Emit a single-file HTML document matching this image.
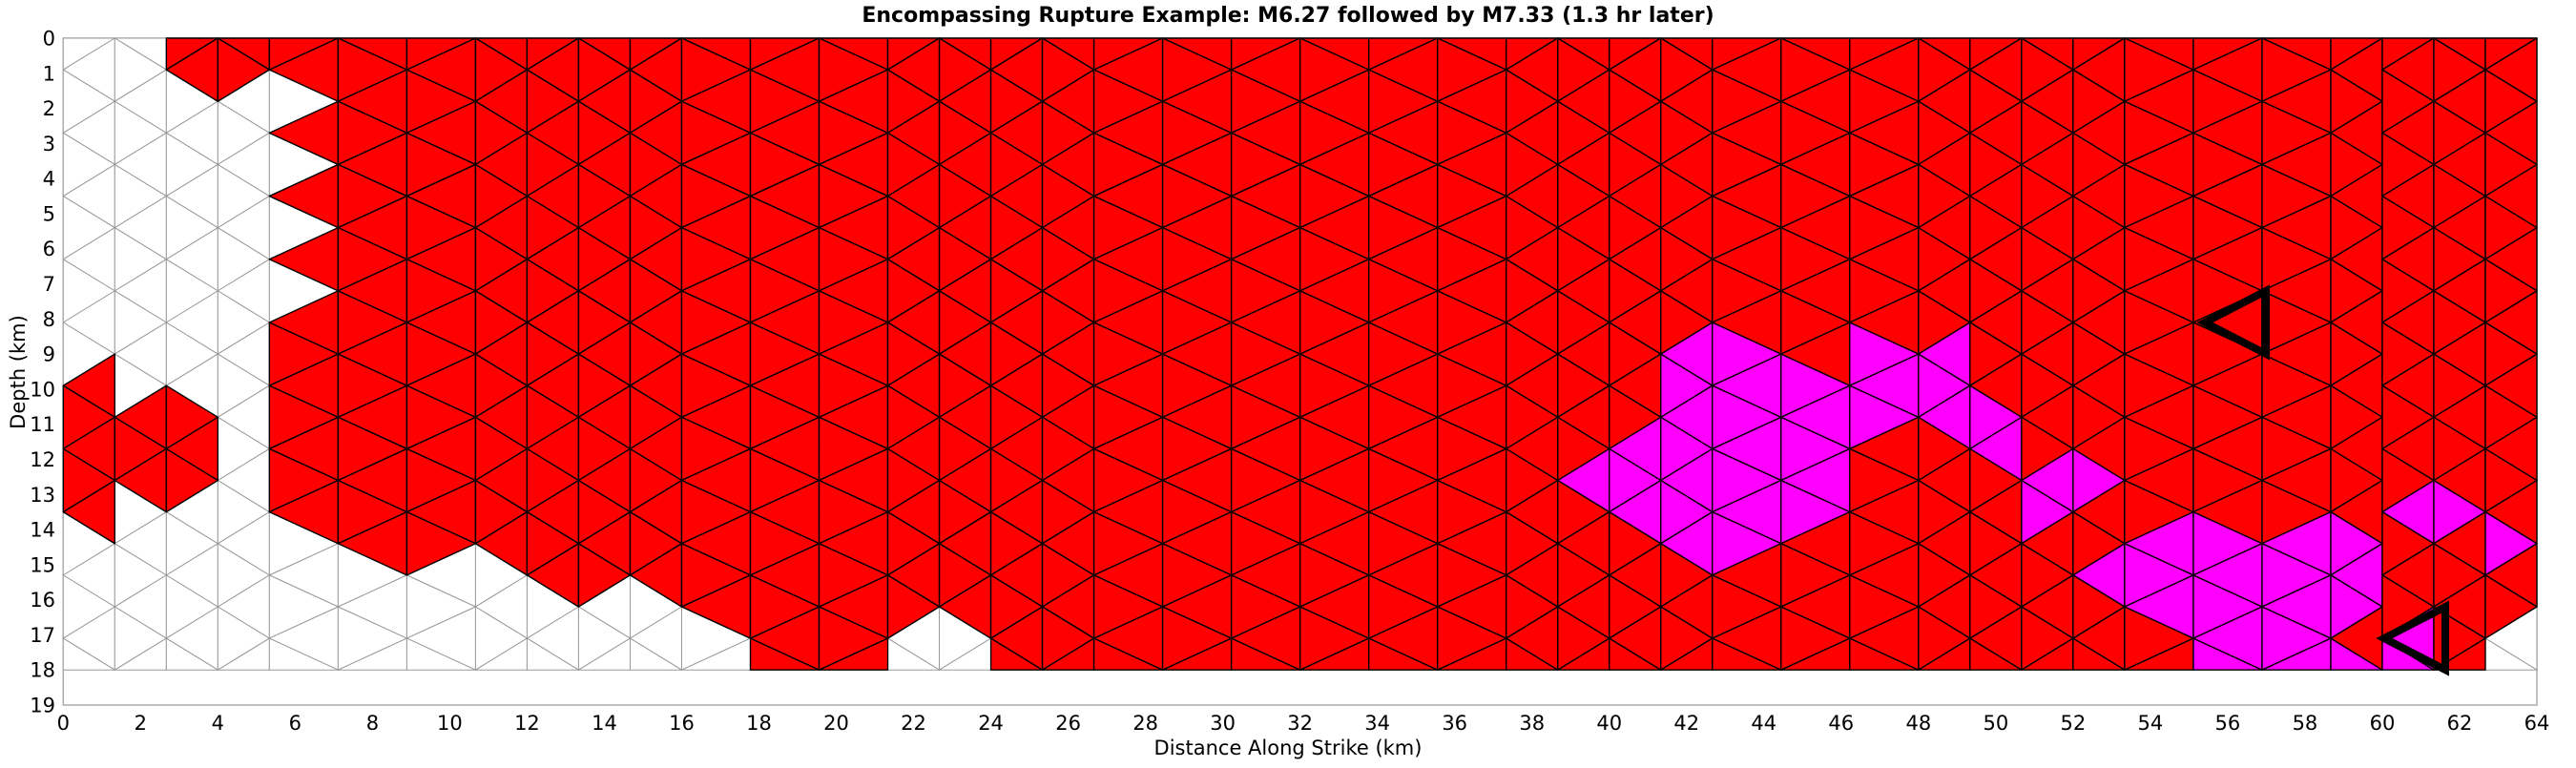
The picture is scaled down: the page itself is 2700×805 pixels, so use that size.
<!DOCTYPE html>
<html><head><meta charset="utf-8">
<style>
html,body{margin:0;padding:0;background:#fff;}
svg text{font-family:"DejaVu Sans","Liberation Sans",sans-serif;}
</style></head>
<body>
<svg id="chart" width="2700" height="800" viewBox="0 0 2700 800" xmlns="http://www.w3.org/2000/svg">
<rect x="0" y="0" width="2700" height="800" fill="#fff"/>
<text x="1350" y="23" text-anchor="middle" font-size="22" font-weight="bold">Encompassing Rupture Example: M6.27 followed by M7.33 (1.3 hr later)</text>
<g id="frame"></g>
<g id="mesh"></g>
<g id="markers"></g>
<g id="xticks"></g>
<g id="yticks"></g>
<text x="1350" y="791" text-anchor="middle" font-size="21">Distance Along Strike (km)</text>
<text x="0" y="0" transform="translate(26,390) rotate(-90)" text-anchor="middle" font-size="21">Depth (km)</text>
</svg>
<script>
// Column boundaries along strike (km)
const colEdges = [0,1.333,2.667,4,5.333,7.111,8.889,10.667,12,13.333,14.667,16,17.778,19.556,21.333,22.667,24,25.333,26.667,28.444,30.222,32,33.778,35.556,37.333,38.667,40,41.333,42.667,44.444,46.222,48,49.333,50.667,52,53.333,55.111,56.889,58.667,60,61.333,62.667,64];
// index of first column of second fault segment
const segmentStarts = [0,39];
// triangle states per column, top to bottom: w = not ruptured, r = M7.33, m = both
const colStates = [
"wwwwwwwwwwwrrrrrwwwww",
"wwwwwwwwwwwwrrrwwwwww",
"rrwwwwwwwwwwrrrwwwwww",
"rrwwwwwwwwwwwwwwwwwww",
"rrwrwrwrwrrrrrrrwwwww",
"rrrrrrrrrrrrrrrrrwwww",
"rrrrrrrrrrrrrrrrrwwww",
"rrrrrrrrrrrrrrrrrwwww",
"rrrrrrrrrrrrrrrrrrwww",
"rrrrrrrrrrrrrrrrrrwww",
"rrrrrrrrrrrrrrrrrrwww",
"rrrrrrrrrrrrrrrrrrrww",
"rrrrrrrrrrrrrrrrrrrrr",
"rrrrrrrrrrrrrrrrrrrrr",
"rrrrrrrrrrrrrrrrrrrww",
"rrrrrrrrrrrrrrrrrrrww",
"rrrrrrrrrrrrrrrrrrrrr",
"rrrrrrrrrrrrrrrrrrrrr",
"rrrrrrrrrrrrrrrrrrrrr",
"rrrrrrrrrrrrrrrrrrrrr",
"rrrrrrrrrrrrrrrrrrrrr",
"rrrrrrrrrrrrrrrrrrrrr",
"rrrrrrrrrrrrrrrrrrrrr",
"rrrrrrrrrrrrrrrrrrrrr",
"rrrrrrrrrrrrrrrrrrrrr",
"rrrrrrrrrrrrrrmrrrrrr",
"rrrrrrrrrrrrrmmmrrrrr",
"rrrrrrrrrrmmmmmmmrrrr",
"rrrrrrrrrrmmmmmmmrrrr",
"rrrrrrrrrrrmmmmmrrrrr",
"rrrrrrrrrrmmmrrrrrrrr",
"rrrrrrrrrrmmmrrrrrrrr",
"rrrrrrrrrrrrmmrrrrrrr",
"rrrrrrrrrrrrrrmmrrrrr",
"rrrrrrrrrrrrrrmrrmrrr",
"rrrrrrrrrrrrrrrrmmmrr",
"rrrrrrrrrrrrrrrrmmmmm",
"rrrrrrrrrrrrrrrrmmmmm",
"rrrrrrrrrrrrrrrrmmmrm",
"rrrrrrrrrrrrrrrmrrrmm",
"rrrrrrrrrrrrrrrmrrrrr",
"rrrrrrrrrrrrrrrrmrrww"
];
const rowSpacingKm = [0.9];
const nRows = [20];
// hypocenters: strike km, depth km
const hypoX = [56.2, 60.84];
const hypoY = [8.1, 17.1];
const xTickLabels = ["0","2","4","6","8","10","12","14","16","18","20","22","24","26","28","30","32","34","36","38","40","42","44","46","48","50","52","54","56","58","60","62","64"];
const yTickLabels = ["0","1","2","3","4","5","6","7","8","9","10","11","12","13","14","15","16","17","18","19"];

const NS='http://www.w3.org/2000/svg';
const X0=66.3, X1=2659, Y0=40, Y1=739, XMAX=64, YMAX=19;
function xs(v){return X0+(X1-X0)*v/XMAX;}
function ys(v){return Y0+(Y1-Y0)*v/YMAX;}
function mk(tag,parent){const e=document.createElementNS(NS,tag);parent.appendChild(e);return e;}

const frame=document.getElementById('frame');
const fr=mk('rect',frame);


fr.setAttribute('x',X0);fr.setAttribute('y',Y0);fr.setAttribute('width',X1-X0);fr.setAttribute('height',Y1-Y0);
fr.setAttribute('fill','none');fr.setAttribute('stroke','#aaa');fr.setAttribute('stroke-width','1.5');

const mesh=document.getElementById('mesh');
const gW=mk('g',mesh), gC=mk('g',mesh);
const N=nRows[0], dz=rowSpacingKm[0];
const fills={w:'#ffffff',r:'#ff0000',m:'#ff00ff'};
for(let c=0;c<colStates.length;c++){
  let seg=0; for(let s=0;s<segmentStarts.length;s++) if(c>=segmentStarts[s]) seg=segmentStarts[s];
  const leftParity=((c-seg)%2===0)?1:0;
  const xl=xs(colEdges[c]), xr=xs(colEdges[c+1]);
  for(let k=0;k<=N;k++){
    const st=colStates[c][k];
    const apexLeft=(k%2)===leftParity;
    const ax=apexLeft?xl:xr, bx=apexLeft?xr:xl;
    const ay=ys(k*dz), b1=ys(Math.max(0,k-1)*dz), b2=ys(Math.min(N,k+1)*dz);
    const p=mk('polygon',st==='w'?gW:gC);
    
    
    p.setAttribute('points',ax+','+ay+' '+bx+','+b1+' '+bx+','+b2);
    p.setAttribute('fill',fills[st]);
    p.setAttribute('stroke',st==='w'?'#9a9a9a':'#000');
    p.setAttribute('stroke-width',st==='w'?'1':'1.4');
    p.setAttribute('stroke-linejoin','round');
  }
}

const markers=document.getElementById('markers');
for(let i=0;i<hypoX.length;i++){
  const cx=xs(hypoX[i]), cy=ys(hypoY[i]);
  const t=mk('polygon',markers);
  
  
  t.setAttribute('points',(cx-32)+','+cy+' '+(cx+32)+','+(cy-33)+' '+(cx+32)+','+(cy+33));
  t.setAttribute('fill','none');t.setAttribute('stroke','#000');t.setAttribute('stroke-width','8');
}

const xt=document.getElementById('xticks');
for(let i=0;i<xTickLabels.length;i++){
  const t=mk('text',xt);
  
  
  t.setAttribute('x',xs(parseFloat(xTickLabels[i])));t.setAttribute('y',765);
  t.setAttribute('text-anchor','middle');t.setAttribute('font-size','21');
  t.textContent=xTickLabels[i];
}
const yt=document.getElementById('yticks');
for(let i=0;i<yTickLabels.length;i++){
  const t=mk('text',yt);
  
  
  t.setAttribute('x',58);t.setAttribute('y',ys(parseFloat(yTickLabels[i]))+7.5);
  t.setAttribute('text-anchor','end');t.setAttribute('font-size','21');
  t.textContent=yTickLabels[i];
}
</script>
</body></html>
